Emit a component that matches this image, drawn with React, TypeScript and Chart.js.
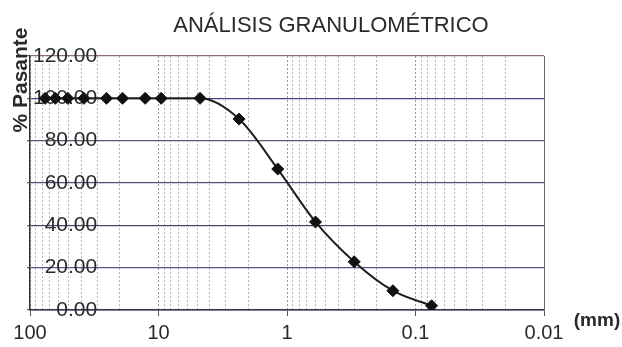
import { useEffect, useRef } from "react";
import { Chart, registerables } from "chart.js";

Chart.register(...registerables);

const sieveSizesMm = [76.2, 63.5, 50.8, 38.1, 25.4, 19.05, 12.7, 9.525, 4.75, 2.36, 1.18, 0.6, 0.3, 0.15, 0.075];
const percentPassing = [100, 100, 100, 100, 100, 100, 100, 100, 100, 90.2, 66.6, 41.6, 22.8, 9.1, 2.0];
const xMajorTicks = [100, 10, 1, 0.1, 0.01];
const xTickLabels = ["100", "10", "1", "0.1", "0.01"];
const xMinorMultipliers = [2, 3, 4, 5, 6, 7, 8, 9];
const yTicks = [0, 20, 40, 60, 80, 100, 120];
const yTickLabels = ["0.00", "20.00", "40.00", "60.00", "80.00", "100.00", "120.00"];
const chartTitle = "ANÁLISIS GRANULOMÉTRICO";
const yAxisTitle = "% Pasante";
const xAxisUnit = "(mm)";

const FONT = "'Liberation Sans', Arial, Helvetica, sans-serif";
const yGridColors = ["#3a3a6e", "#55558a", "#4a4a66", "#5a4a7a", "#5a5a70", "#45457a", "#8a7070"];

const isMajor = (v: number) => {
  const l = Math.log10(v);
  return Math.abs(l - Math.round(l)) < 1e-6;
};
const majorIndex = (v: number) =>
  xMajorTicks.findIndex((m) => Math.abs(Math.log10(m) - Math.log10(v)) < 1e-6);

const extraText = {
  id: "extraText",
  beforeDatasetsDraw(chart: any) {
    const { ctx, chartArea } = chart;
    ctx.save();
    ctx.strokeStyle = "#666";
    ctx.lineWidth = 1;
    ctx.beginPath();
    ctx.moveTo(chartArea.right + 0.5, chartArea.top);
    ctx.lineTo(chartArea.right + 0.5, chartArea.bottom);
    ctx.stroke();
    ctx.restore();
  },
  afterDraw(chart: any) {
    const { ctx } = chart;
    ctx.save();
    ctx.fillStyle = "#2a2a2a";
    ctx.font = `22px ${FONT}`;
    ctx.textAlign = "center";
    ctx.textBaseline = "alphabetic";
    ctx.fillText(chartTitle, 331, 32);

    ctx.font = `bold 19px ${FONT}`;
    ctx.textAlign = "center";
    ctx.textBaseline = "middle";
    ctx.fillText(xAxisUnit, 597, 321);

    ctx.translate(21, 80);
    ctx.rotate(-Math.PI / 2);
    ctx.font = `bold 21px ${FONT}`;
    ctx.fillText(yAxisTitle, 0, 0);
    ctx.restore();
  },
};

export default function App() {
  const canvasRef = useRef<HTMLCanvasElement | null>(null);

  useEffect(() => {
    if (!canvasRef.current) return;
    const points = sieveSizesMm.map((x, i) => ({ x, y: percentPassing[i] }));
    const chart = new Chart(canvasRef.current, {
      type: "scatter",
      data: {
        datasets: [
          {
            data: points,
            showLine: true,
            cubicInterpolationMode: "monotone",
            borderColor: "#1e1e1e",
            borderWidth: 2,
            backgroundColor: "#111",
            pointStyle: "rectRot",
            pointRadius: 6,
            pointBorderColor: "#111",
            pointBorderWidth: 1,
          },
        ],
      },
      options: {
        animation: false,
        responsive: true,
        maintainAspectRatio: false,
        events: [],
        layout: { padding: { top: 56, right: 78, left: 0, bottom: 0 } },
        plugins: {
          legend: { display: false },
          title: { display: false },
          tooltip: { enabled: false },
        },
        scales: {
          x: {
            type: "logarithmic",
            reverse: true,
            min: 0.01,
            max: 100,
            afterBuildTicks(scale: any) {
              const sorted = [...xMajorTicks].sort((a, b) => a - b);
              const ticks: { value: number }[] = [];
              for (let i = 0; i < sorted.length; i++) {
                ticks.push({ value: sorted[i] });
                if (i < sorted.length - 1) {
                  xMinorMultipliers.forEach((k) => ticks.push({ value: sorted[i] * k }));
                }
              }
              scale.ticks = ticks;
            },
            afterFit(scale: any) {
              scale.height = 37;
            },
            ticks: {
              autoSkip: false,
              maxRotation: 0,
              minRotation: 0,
              padding: 5,
              color: "#2a2a2a",
              font: { family: FONT, size: 20 },
              callback: (v: any) => {
                const idx = majorIndex(Number(v));
                return idx >= 0 ? xTickLabels[idx] : "";
              },
            },
            grid: {
              color: (c: any) => (c.tick && isMajor(c.tick.value) ? "#9a9a9a" : "#b8b8b8"),
              lineWidth: 1,
              tickLength: 6,
              tickColor: (c: any) => (c.tick && isMajor(c.tick.value) ? "#555" : "rgba(0,0,0,0)"),
            },
            border: { display: true, color: "#33334a", width: 1.5, dash: [2, 2] },
          },
          y: {
            min: 0,
            max: 120,
            afterBuildTicks(scale: any) {
              scale.ticks = yTicks.map((v) => ({ value: v }));
            },
            afterFit(scale: any) {
              scale.width = 30;
            },
            ticks: {
              mirror: true,
              crossAlign: "far",
              padding: 3,
              color: "#2a2a2a",
              font: { family: FONT, size: 21 },
              callback: (_v: any, i: number) => yTickLabels[i],
            },
            grid: {
              color: (c: any) => yGridColors[c.index] ?? "#555",
              lineWidth: 1.2,
              tickLength: 3,
              tickColor: "#666",
            },
            border: { display: true, color: "#333", width: 1.5 },
          },
        },
      },
      plugins: [extraText],
    } as any);
    return () => chart.destroy();
  }, []);

  return (
    <div style={{ position: "absolute", left: 0, top: 0, width: 622, height: 347, background: "#fff" }}>
      <canvas ref={canvasRef} />
    </div>
  );
}
